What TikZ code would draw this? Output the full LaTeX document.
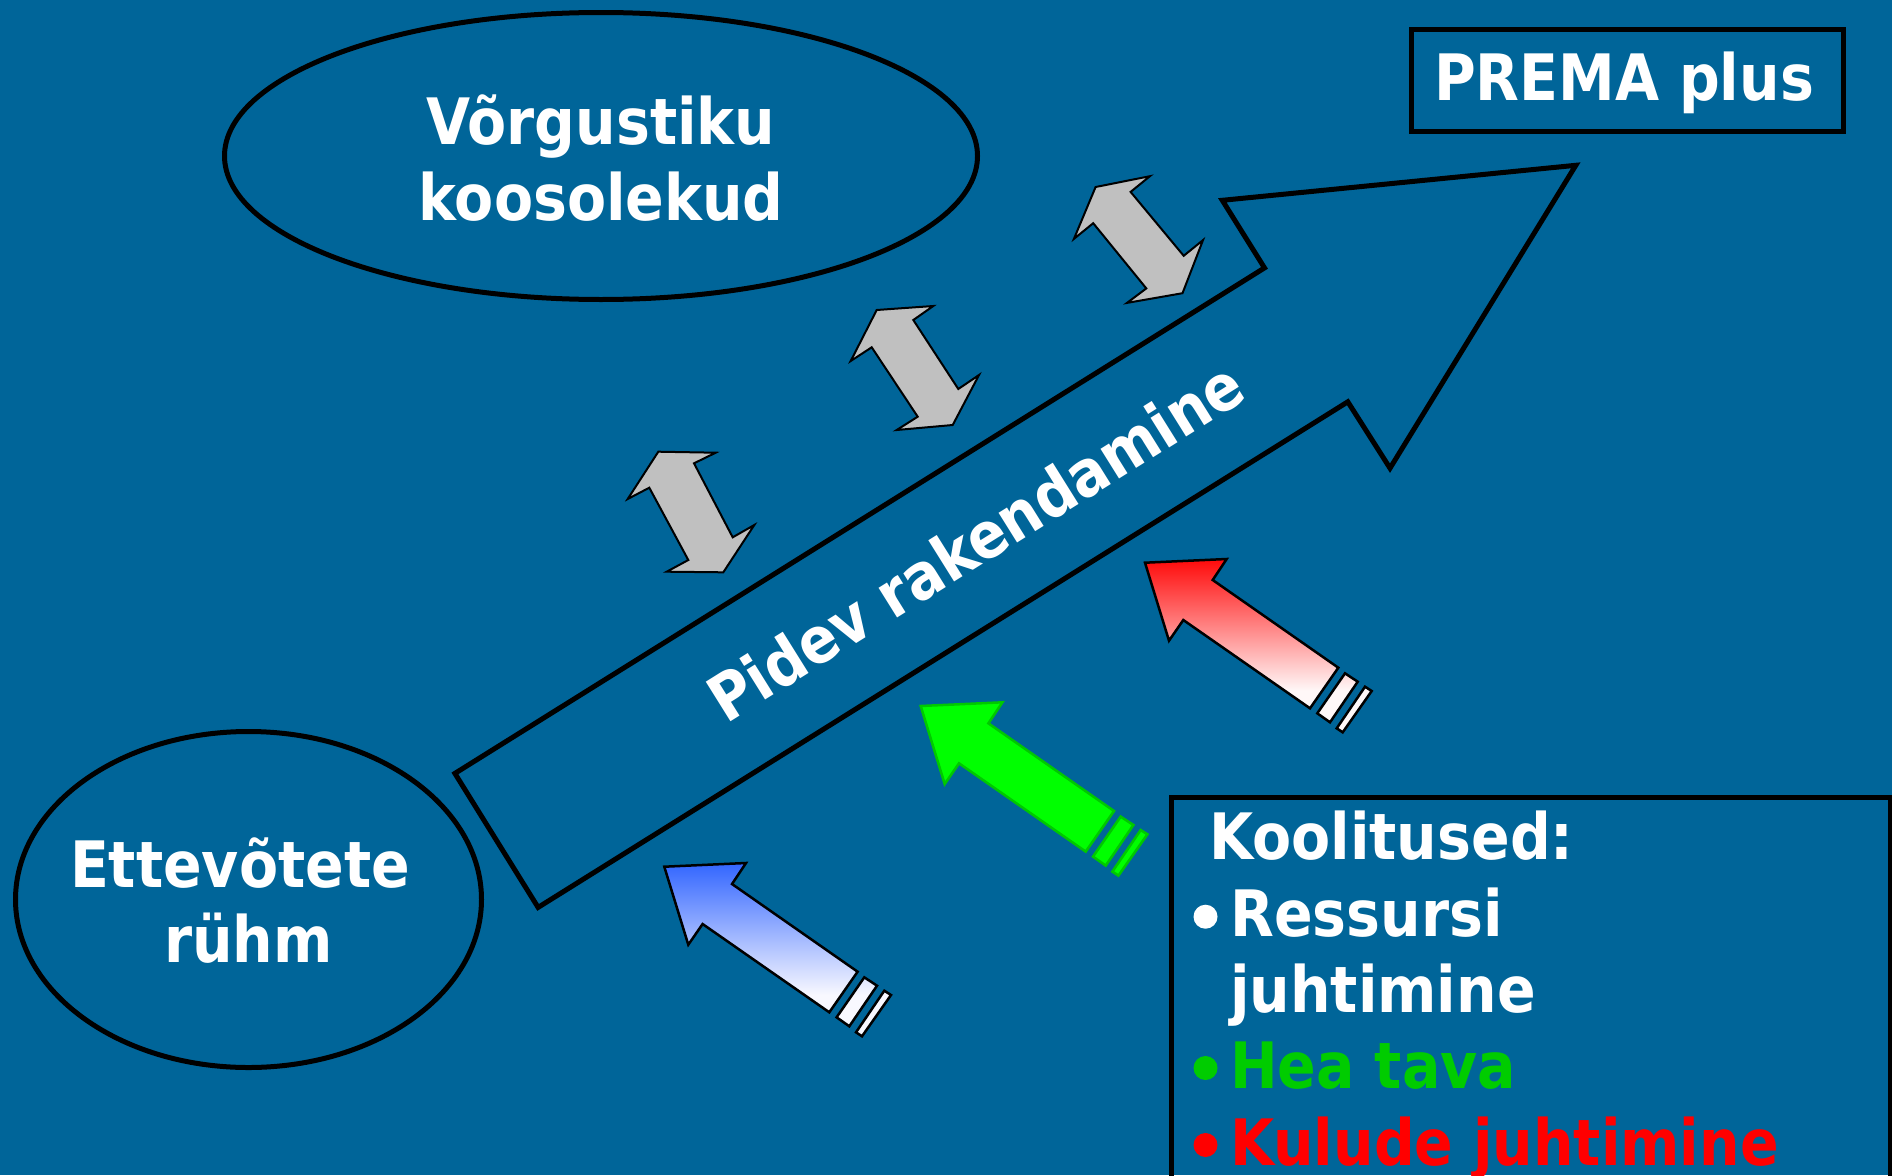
\documentclass[tikz,border=0pt]{standalone}
\usepackage{fontspec}
\newfontfamily\vb[FakeStretch=0.89]{DejaVu Sans Bold}
\usetikzlibrary{shapes.geometric}
\definecolor{bg}{RGB}{0,101,153}
\definecolor{grayfill}{RGB}{192,192,192}
\definecolor{heagreen}{RGB}{0,204,0}
\definecolor{kulred}{RGB}{255,0,0}
\definecolor{arrgreen}{RGB}{0,255,0}
\definecolor{arrgreenline}{RGB}{0,200,0}
\definecolor{redtop}{RGB}{255,10,10}
\definecolor{redbot}{RGB}{255,248,248}
\definecolor{bluetop}{RGB}{51,102,255}
\definecolor{bluebot}{RGB}{248,248,255}
\pgfdeclareverticalshading{redfade}{100bp}{color(0bp)=(redbot); color(37bp)=(redbot); color(75bp)=(redtop); color(100bp)=(redtop)}
\pgfdeclareverticalshading{bluefade}{100bp}{color(0bp)=(bluebot); color(37bp)=(bluebot); color(75bp)=(bluetop); color(100bp)=(bluetop)}
\begin{document}
\begin{tikzpicture}[x=1pt,y=-1pt,
  txt/.style={text=white, font=\vb\fontsize{64}{76}\selectfont, inner sep=0pt, anchor=base},
  txtl/.style={txt, anchor=base west},
  ell/.style={draw=black, line width=5pt, ellipse, inner sep=0pt},
  framebox/.style={draw=black, line width=5pt, rectangle, inner sep=0pt, anchor=north west},
  bigarrow/.style={draw=black, line width=5pt, line join=miter},
  grayarrow/.style={fill=grayfill, draw=black, line width=2pt, line join=miter},
  fatarrow/.style={draw=black, line width=2.5pt, line join=miter},
  bul/.style={circle, inner sep=0pt, minimum size=24pt}
]
\useasboundingbox (0,0) rectangle (1892,1175);
\clip (0,0) rectangle (1892,1175);
\fill[bg] (0,0) rectangle (1892,1175);

% ellipses
\node[ell, minimum width=753pt, minimum height=287pt] (e1) at (601,156) {};
\node[ell, minimum width=466pt, minimum height=336pt] (e2) at (248.5,899.5) {};

% big arrow
\draw[bigarrow] (454.9,773.4) -- (1264.5,267.9) -- (1222.3,200.3) -- (1575.8,165.3)
  -- (1390,468.2) -- (1347.8,401.8) -- (538.1,907.4) -- cycle;

% gray double arrows
\draw[grayarrow] (658.3,451.7) -- (715.7,452.7) -- (694,463.3) -- (732.7,537.3) -- (754.3,525)
  -- (723.3,572.3) -- (666.7,571.7) -- (688.3,560) -- (649.3,487.7) -- (627.7,499) -- cycle;
\draw[grayarrow] (876.7,310) -- (933.3,306) -- (913.3,320) -- (958.3,389) -- (979,375)
  -- (952.7,425) -- (896.7,430) -- (917.7,416.7) -- (871.7,347.3) -- (850.7,361) -- cycle;
\draw[grayarrow] (1095.6,187) -- (1149.9,176.2) -- (1130.6,191.9) -- (1183.7,255.8) -- (1203,240.1)
  -- (1182.5,293.2) -- (1127,302.9) -- (1146.3,288.4) -- (1093.2,223.2) -- (1073.9,238.9) -- cycle;

% red arrow
\begin{scope}[shift={(1145,562.7)}]
\shadedraw[fatarrow, shading=redfade]
  (0,0) -- (81.7,-3.7) -- (67.7,17.3) -- (193.3,105) -- (165,145.6) -- (38.3,57.3) -- (24,78) -- cycle
  (200,110.6) -- (212.7,119) -- (185,159.6) -- (172.3,150.6) -- cycle
  (220,124) -- (226.7,128.3) -- (197.7,169.6) -- (191.7,165.6) -- cycle;
\end{scope}
% green arrow
\begin{scope}[shift={(920.7,706)}]
\filldraw[fatarrow, fill=arrgreen, draw=arrgreenline]
  (0,0) -- (81.7,-3.7) -- (67.7,17.3) -- (193.3,105) -- (165,145.6) -- (38.3,57.3) -- (24,78) -- cycle
  (200,110.6) -- (212.7,119) -- (185,159.6) -- (172.3,150.6) -- cycle
  (220,124) -- (226.7,128.3) -- (197.7,169.6) -- (191.7,165.6) -- cycle;
\end{scope}
% blue arrow
\begin{scope}[shift={(664.3,866.7)}]
\shadedraw[fatarrow, shading=bluefade]
  (0,0) -- (81.7,-3.7) -- (67.7,17.3) -- (193.3,105) -- (165,145.6) -- (38.3,57.3) -- (24,78) -- cycle
  (200,110.6) -- (212.7,119) -- (185,159.6) -- (172.3,150.6) -- cycle
  (220,124) -- (226.7,128.3) -- (197.7,169.6) -- (191.7,165.6) -- cycle;
\end{scope}

% boxes
\node[framebox, minimum width=432pt, minimum height=102.5pt] (prema) at (1409,26.5) {};
\node[framebox, minimum width=719pt, minimum height=420pt] (kbox) at (1169,795) {};

% texts
\node[txt] (e1a) at (601,144) {Võrgustiku};
\node[txt] (e1b) at (601,220) {koosolekud};
\node[txt] (e2a) at (240,887) {Ettevõtete};
\node[txt] (e2b) at (248.6,962) {rühm};
\node[txt] (premat) at (1624,100) {PREMA plus};
\node[txtl, rotate=32] (pidev) at (726,725) {Pidev rakendamine};

\node[txtl] (k0) at (1209,859) {Koolitused:};
\node[bul, fill=white] (b1) at (1205.5,916.7) {};
\node[txtl] (k1) at (1230,936) {Ressursi};
\node[txtl] (k2) at (1230,1012) {juhtimine};
\node[bul, fill=heagreen] (b2) at (1205.5,1068) {};
\node[txtl, text=heagreen] (k3) at (1230,1088) {Hea tava};
\node[bul, fill=kulred] (b3) at (1205.5,1145) {};
\node[txtl, text=kulred] (k4) at (1230,1165) {Kulude juhtimine};
\end{tikzpicture}
\end{document}
